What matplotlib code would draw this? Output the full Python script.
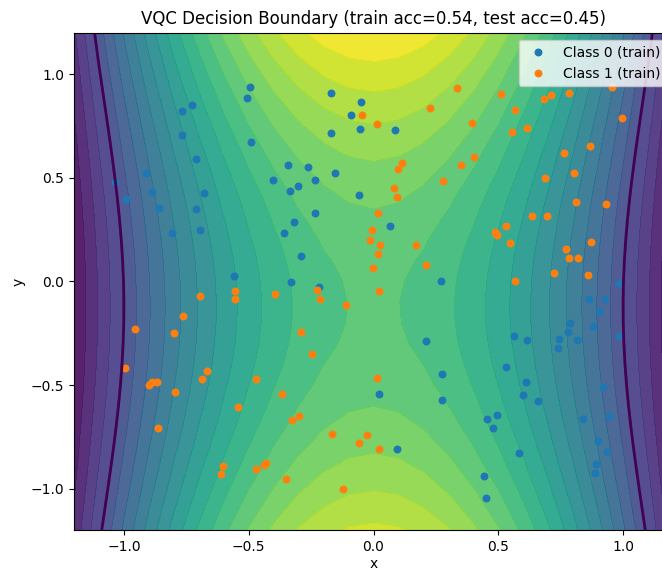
import numpy as np
import matplotlib

matplotlib.use("Agg")
from matplotlib import pyplot as plt

# grid on which the classifier output was evaluated
grid_x = np.round(np.linspace(-1.2, 1.2, 25), 2)
grid_y = np.round(np.linspace(-1.2, 1.2, 25), 2)

# output profile along x (1 at the centre, 0 on the decision line)
x_profile = [-0.4074, -0.1969, 0.0, 0.1821, 0.3481, 0.4971, 0.6281, 0.7403,
             0.8331, 0.9058, 0.9580, 0.9895, 1.0, 0.9895, 0.9580, 0.9058,
             0.8331, 0.7403, 0.6281, 0.4971, 0.3481, 0.1821, 0.0, -0.1969,
             -0.4074]
# amplitude and offset along y
y_scale = [0.2375, 0.2311, 0.2251, 0.2196, 0.2146, 0.2102, 0.2064, 0.2033,
           0.2009, 0.1992, 0.1982, 0.1980, 0.1986, 0.1999, 0.2020, 0.2048,
           0.2082, 0.2123, 0.2171, 0.2223, 0.2281, 0.2343, 0.2408, 0.2475,
           0.2545]
y_offset = [0.04158, 0.03488, 0.02859, 0.02278, 0.01750, 0.01285, 0.00885,
            0.00556, 0.00301, 0.00122, 0.00022, 0.00002, 0.00062, 0.00202,
            0.00419, 0.00711, 0.01076, 0.01510, 0.02007, 0.02562, 0.03168,
            0.03819, 0.04505, 0.05219, 0.05950]

class0_x = [-1.037, -0.993, -0.913, -0.887, -0.859, -0.808, -0.768, -0.726,
            -0.768, -0.712, -0.681, -0.712, -0.694, -0.508, -0.495, -0.492,
            -0.559, -0.341, -0.262, -0.401, -0.335, -0.302, -0.236, -0.234,
            -0.319, -0.359, -0.290, -0.331, -0.220, -0.169, -0.169, -0.050,
            -0.089, -0.053, 0.086, -0.155, -0.057, 0.066, 0.270, 0.985,
            0.022, 0.094, 0.212, 0.275, 0.275, 0.456, 0.496, 0.480, 0.583,
            0.441, 0.452, 0.532, 0.563, 0.615, 0.613, 0.599, 0.659, 0.742,
            0.738, 0.789, 0.781, 0.817, 0.863, 0.927, 0.903, 0.881, 0.982,
            0.919, 0.944, 0.838, 0.898, 0.935, 0.893, 0.887]
class0_y = [0.479, 0.396, 0.521, 0.431, 0.354, 0.235, 0.820, 0.853, 0.705,
            0.591, 0.426, 0.349, 0.250, 0.886, 0.938, 0.673, 0.026, 0.563,
            0.554, 0.487, 0.434, 0.458, 0.490, 0.330, 0.288, 0.235, 0.121,
            -0.004, -0.029, 0.909, 0.716, 0.867, 0.801, 0.734, 0.729, 0.525,
            0.415, 0.267, 0.001, -0.007, -0.541, -0.808, -0.289, -0.445,
            -0.570, -0.665, -0.645, -0.708, -0.827, -0.936, -1.045, -0.413,
            -0.265, -0.284, -0.485, -0.546, -0.575, -0.280, -0.321, -0.200,
            -0.246, -0.283, -0.086, -0.086, -0.145, -0.217, -0.265, -0.508,
            -0.650, -0.665, -0.769, -0.822, -0.880, -0.922]

class1_x = [-0.046, 0.014, 0.335, 0.227, 0.395, 0.512, 0.565, 0.556, 0.615,
            0.682, 0.710, 0.782, 0.954, 0.994, 0.867, 0.762, 0.805, 0.687,
            0.813, 0.931, 0.635, 0.695, 0.532, 0.486, 0.496, 0.548, 0.873,
            0.770, 0.782, 0.821, 0.722, 0.861, 0.565, 0.113, 0.098, 0.401,
            0.351, 0.279, 0.082, 0.094, 0.018, -0.006, -0.014, 0.026, 0.018,
            0.169, 0.212, -0.002, 0.022, -0.112, -0.556, -0.555, -0.695,
            -0.393, -0.228, -0.214, -0.762, -0.956, -0.798, -0.290, -0.247,
            -0.997, -0.669, -0.687, -0.472, -0.898, -0.887, -0.867, -0.796,
            -0.365, -0.544, -0.327, -0.298, -0.863, -0.603, -0.611, -0.472,
            -0.440, -0.430, -0.351, 0.014, -0.168, -0.060, -0.025, 0.022,
            -0.124]
class1_y = [0.801, 0.758, 0.933, 0.834, 0.763, 0.904, 0.829, 0.719, 0.739,
            0.882, 0.899, 0.909, 0.936, 0.790, 0.652, 0.620, 0.524, 0.500,
            0.383, 0.373, 0.315, 0.315, 0.267, 0.240, 0.224, 0.187, 0.192,
            0.155, 0.115, 0.115, 0.039, 0.030, 0.001, 0.572, 0.543, 0.601,
            0.563, 0.486, 0.449, 0.405, 0.330, 0.249, 0.202, 0.178, 0.134,
            0.178, 0.081, 0.064, -0.048, -0.113, -0.047, -0.084, -0.070,
            -0.060, -0.043, -0.086, -0.169, -0.230, -0.251, -0.246, -0.350,
            -0.418, -0.431, -0.469, -0.469, -0.501, -0.485, -0.485, -0.535,
            -0.544, -0.607, -0.668, -0.650, -0.706, -0.888, -0.931, -0.905,
            -0.885, -0.876, -0.953, -0.464, -0.736, -0.779, -0.741, -0.808,
            -1.001]

train_acc = 0.54
test_acc = 0.45

xx, yy = np.meshgrid(grid_x, grid_y)
zz = 0.5 + np.outer(y_scale, x_profile) + np.array(y_offset)[:, None]

fig = plt.figure(figsize=(6.62, 5.72), dpi=100)
ax = fig.add_axes([0.1118, 0.0730, 0.9048, 0.8700])

levels = np.linspace(zz.min(), zz.max(), 21)
ax.contourf(xx, yy, zz, levels=levels, cmap="viridis", alpha=0.9)
ax.contour(xx, yy, zz, levels=[0.5], colors="#440154", linewidths=2)

ax.scatter(class0_x, class0_y, s=22, color="#1f77b4", label="Class 0 (train)")
ax.scatter(class1_x, class1_y, s=22, color="#ff7f0e", label="Class 1 (train)")

ax.set_xlim(-1.2, 1.2)
ax.set_ylim(-1.2, 1.2)
ax.set_xlabel("x", labelpad=2)
ax.set_ylabel("y")
ax.set_title(f"VQC Decision Boundary (train acc={train_acc:.2f}, test acc={test_acc:.2f})")
ax.legend(loc="upper right")

fig.savefig("out.png", dpi=100)
